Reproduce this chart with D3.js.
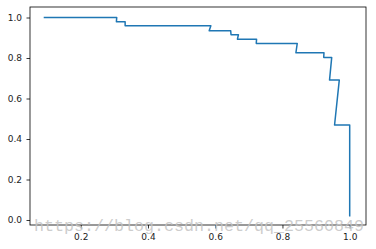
<!DOCTYPE html>
<html>
<head>
<meta charset="utf-8">
<script src="https://cdn.jsdelivr.net/npm/d3@7"></script>
<style>
  html, body { margin: 0; padding: 0; background: #fff; }
  svg { display: block; }
</style>
</head>
<body>
<div id="chart"></div>
<script>
// precision (x) / recall (y) step curve
const precision = [0.092, 0.307, 0.306, 0.332, 0.332, 0.587, 0.582, 0.646, 0.647, 0.669, 0.666,
                   0.723, 0.722, 0.844, 0.840, 0.9235, 0.9227, 0.9465, 0.940, 0.969, 0.955, 1.0, 1.0];
const recall    = [1.0, 1.0, 0.979, 0.979, 0.959, 0.959, 0.935, 0.935, 0.915, 0.915, 0.893,
                   0.893, 0.872, 0.872, 0.826, 0.826, 0.803, 0.803, 0.691, 0.691, 0.469, 0.469, 0.021];
const xTicks = [0.2, 0.4, 0.6, 0.8, 1.0];
const yTicks = [0.0, 0.2, 0.4, 0.6, 0.8, 1.0];
const watermark = 'https://blog.csdn.net/qq_25560849';

const W = 376, H = 249;
const margin = { top: 7, right: 10, bottom: 24, left: 30 };
const BLUE = '#1f77b4';
const FONT = "'DejaVu Sans', sans-serif";

const svg = d3.select('#chart').append('svg')
  .attr('width', W).attr('height', H);

svg.append('rect').attr('width', W).attr('height', H).attr('fill', '#fff');

const x = d3.scaleLinear()
  .domain([0.049, 1.0485])
  .range([margin.left, W - margin.right]);

const y = d3.scaleLinear()
  .domain([-0.0247, 1.0519])
  .range([H - margin.bottom, margin.top]);

const pts = precision.map((p, i) => [p, recall[i]]);

svg.append('path')
  .datum(pts)
  .attr('fill', 'none')
  .attr('stroke', BLUE)
  .attr('stroke-width', 1.5)
  .attr('stroke-linejoin', 'round')
  .attr('stroke-linecap', 'square')
  .attr('d', d3.line().x(d => x(d[0])).y(d => y(d[1])));

// frame
svg.append('rect')
  .attr('x', margin.left).attr('y', margin.top)
  .attr('width', W - margin.left - margin.right)
  .attr('height', H - margin.top - margin.bottom)
  .attr('fill', 'none')
  .attr('stroke', '#000')
  .attr('stroke-width', 0.8);

const xAxis = svg.append('g')
  .attr('transform', `translate(0,${H - margin.bottom})`)
  .call(d3.axisBottom(x).tickValues(xTicks).tickFormat(d3.format('.1f'))
    .tickSize(3.5).tickPadding(5).tickSizeOuter(0));
const yAxis = svg.append('g')
  .attr('transform', `translate(${margin.left},0)`)
  .call(d3.axisLeft(y).tickValues(yTicks).tickFormat(d3.format('.1f'))
    .tickSize(3.5).tickPadding(4.5).tickSizeOuter(0));

[xAxis, yAxis].forEach(ax => {
  ax.select('.domain').remove();
  ax.selectAll('line').attr('stroke', '#000').attr('stroke-width', 0.8);
  ax.selectAll('text').style('font-family', FONT).style('font-size', '9px').attr('fill', '#222');
});

// csdn watermark
svg.append('text')
  .attr('x', 34).attr('y', 231)
  .attr('textLength', 330)
  .attr('lengthAdjust', 'spacingAndGlyphs')
  .style('font-family', "'Liberation Mono', monospace")
  .style('font-size', '16px')
  .attr('fill', '#c4c4c4')
  .attr('fill-opacity', 0.85)
  .text(watermark);
</script>
</body>
</html>
